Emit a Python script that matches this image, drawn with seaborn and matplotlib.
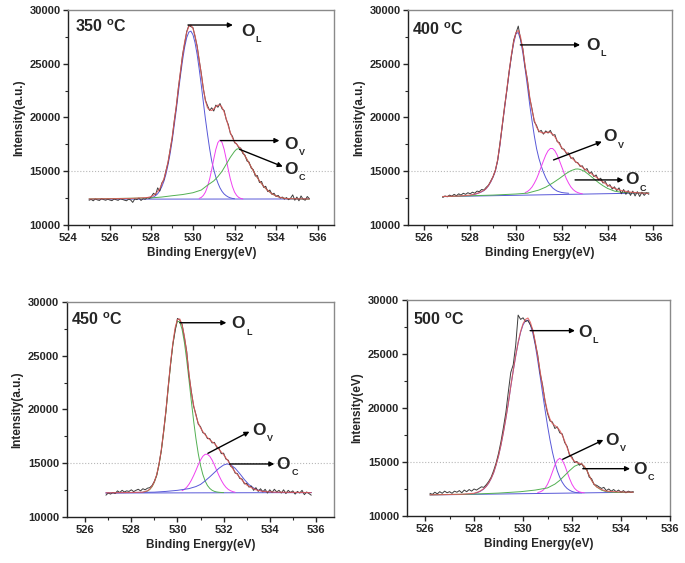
import numpy as np
import matplotlib
matplotlib.use('Agg')
import matplotlib.pyplot as plt
import seaborn as sns
from matplotlib.ticker import MultipleLocator

# ---------------- data ----------------
# raw spectra: 0.1 eV steps starting at the given energy
raw350_start = 525.0
raw350 = [12300, 12380, 12250, 12420, 12330, 12280, 12450, 12360, 12300, 12400,
          12320, 12260, 12410, 12350, 12290, 12440, 12380, 12310, 12250, 12400,
          12330, 12100, 12420, 12360, 12500, 12280, 12450, 12390, 12550, 12480,
          12650, 12950, 12800, 13450, 13150, 13900, 14200, 15050, 15800, 17000,
          18100, 19700, 21050, 22800, 24250, 25850, 26900, 28000, 28550, 28450,
          28350, 27500, 26650, 25300, 24100, 22650, 21600, 21100, 20650, 20900,
          20600, 21150, 20950, 21300, 20800, 20650, 19800, 19350, 18500, 18250,
          17650, 17550, 17200, 17150, 16650, 16500, 15950, 15850, 15300, 15150,
          14550, 14600, 13950, 14050, 13500, 13600, 13100, 13250, 12850, 12950,
          12650, 12750, 12500, 12600, 12400, 12550, 12350, 12500, 12800, 12300,
          12600, 12250, 12700, 12400, 12300, 12650, 12450]
raw400_start = 526.8
raw400 = [12550, 12700, 12620, 12780, 12680, 12850, 12720, 12900, 12780, 12950,
          12850, 13000, 12900, 13050, 12950, 13150, 13100, 13300, 13250, 13500,
          13700, 14100, 14500, 15100, 16000, 17600, 19200, 21000, 22500, 24300,
          25700, 27200, 27850, 28500, 27300, 26400, 24700, 23500, 21800, 20800,
          19600, 19250, 18650, 18800, 18450, 18750, 18550, 18800, 18350, 18400,
          17750, 17650, 17100, 17050, 16650, 16700, 16200, 16250, 15850, 15800,
          15450, 15500, 15100, 15250, 14800, 14950, 14500, 14650, 14200, 14350,
          13900, 14050, 13600, 13750, 13350, 13550, 13200, 13450, 12900, 13300,
          12850, 13200, 12750, 13150, 12700, 13100, 12650, 13050, 12750, 13000,
          12850]
raw450_start = 526.9
raw450 = [12050, 12250, 12150, 12300, 12200, 12450, 12300, 12500, 12350, 12450,
          12400, 12550, 12380, 12500, 12600, 12450, 12650, 12550, 12700, 12750,
          12950, 13350, 13900, 14950, 16200, 18000, 19850, 22150, 24200, 26050,
          27300, 28450, 28300, 27900, 26700, 25400, 23200, 21700, 20300, 19550,
          18650, 18400, 17850, 17750, 17300, 17300, 16900, 16950, 16500, 16400,
          15900, 15950, 15400, 15300, 14750, 14600, 14100, 14050, 13600, 13550,
          13100, 13150, 12800, 12900, 12500, 12750, 12400, 12650, 12350, 12600,
          12250, 12550, 12300, 12600, 12350, 12500, 12250, 12550, 12200, 12500,
          12300, 12450, 12150, 12400, 12250, 12500, 12100, 12350, 12200, 12050]
raw500_start = 526.2
raw500 = [12100, 12000, 12200, 12050, 12250, 12100, 12300, 12150, 12250, 12100,
          12300, 12200, 12350, 12150, 12400, 12250, 12450, 12300, 12500, 12400,
          12550, 12700, 12650, 12900, 13200, 13600, 14200, 14900, 15800, 16900,
          18200, 19600, 21500, 23300, 24000, 25800, 28600, 28200, 28350, 28000,
          28100, 27700, 27200, 26000, 24900, 23200, 22100, 20600, 19500, 18800,
          18700, 18100, 18250, 17700, 17600, 16800, 16450, 15600, 15450, 14950,
          15050, 14700, 14850, 14400, 14350, 13600, 13450, 12900, 12850, 12700,
          12550, 12650, 12350, 12500, 12300, 12450, 12250, 12400, 12200, 12350,
          12150, 12300, 12200, 12250]

# cumulative fit envelopes
fit350_x = [525.0, 527.0, 527.8, 528.0, 528.2, 528.4,
            528.6, 528.7, 528.8, 528.9, 529.0, 529.1, 529.2, 529.3, 529.4, 529.5,
            529.6, 529.7, 529.8, 529.9, 530.0, 530.1, 530.2, 530.3, 530.4, 530.5,
            530.6, 530.7, 530.8, 530.9, 531.0, 531.1, 531.2, 531.3, 531.4, 531.5,
            531.6, 531.7, 531.8, 531.9, 532.0, 532.1, 532.2, 532.3, 532.4,
            532.6, 532.8, 533.0, 533.2, 533.4, 533.6, 533.8, 534.0, 534.2, 534.5, 535.6]
fit350 = [12420, 12470, 12550, 12640, 12890, 13360,
          14280, 14980, 15880, 16930, 18180, 19630, 21130, 22750, 24330, 25760,
          27010, 27940, 28470, 28600, 28290, 27610, 26580, 25350, 24025, 22700,
          21540, 20900, 20700, 20650, 20800, 21000, 21150, 21150, 20950, 20500,
          19900, 19200, 18600, 18100, 17750, 17500, 17300, 17050, 16750,
          16100, 15400, 14700, 14100, 13600, 13200, 12900, 12700, 12560, 12450, 12420]
fit400_x = [526.8, 527.5, 528.0, 528.2, 528.4,
            528.6, 528.7, 528.8, 528.9, 529.0, 529.1, 529.2, 529.3, 529.4, 529.5,
            529.6, 529.7, 529.8, 529.9, 530.0, 530.1, 530.2, 530.3, 530.4, 530.5,
            530.6, 530.7, 530.8, 530.9, 531.0, 531.1, 531.2, 531.3, 531.4, 531.5,
            531.6, 531.7, 531.8, 531.9, 532.0, 532.1, 532.2, 532.3, 532.4,
            532.6, 532.8, 533.0, 533.2, 533.4, 533.6, 533.8, 534.0, 534.3, 534.6,
            535.0, 535.4, 535.8]
fit400 = [12650, 12690, 12780, 12870, 13010,
          13220, 13400, 13680, 14040, 14500, 15060, 16070, 17480, 19290, 20900,
          22610, 24220, 25830, 27040, 27900, 28100, 27500, 26300, 24800, 23400,
          21900, 20700, 19750, 19100, 18750, 18600, 18550, 18600, 18650, 18600,
          18450, 18200, 17850, 17500, 17200, 16950, 16750, 16550, 16300,
          15900, 15550, 15200, 14900, 14600, 14300, 14000, 13700, 13400, 13200,
          13050, 12980, 12950]
fit450_x = [526.9, 528.0, 528.5,
            528.7, 528.8, 528.9, 529.0, 529.1, 529.2, 529.3, 529.4, 529.5, 529.6,
            529.7, 529.8, 529.9, 530.0, 530.1, 530.2, 530.3, 530.4, 530.5, 530.6,
            530.7, 530.8, 530.9, 531.0, 531.1, 531.2, 531.3, 531.4, 531.5, 531.6,
            531.7, 531.8, 531.9, 532.0, 532.1, 532.2, 532.3, 532.4, 532.5, 532.6,
            532.7, 532.8, 532.9, 533.0,
            533.2, 533.4, 533.7, 534.2, 535.8]
fit450 = [12270, 12300, 12330,
          12460, 12610, 12880, 13300, 13950, 14920, 16260, 17950, 19900, 22100,
          24280, 26150, 27600, 28350, 28400, 27850, 26800, 25300, 23300, 21600,
          20400, 19450, 18750, 18300, 17950, 17650, 17400, 17200, 17000, 16850,
          16600, 16300, 16050, 15800, 15500, 15200, 14850, 14500, 14200, 13950,
          13700, 13450, 13200, 13000,
          12750, 12550, 12400, 12330, 12290]
fit500_x = [526.2, 527.5, 528.0,
            528.2, 528.3, 528.4, 528.5, 528.6, 528.7, 528.8, 528.9, 529.0, 529.1,
            529.2, 529.3, 529.4, 529.5, 529.6, 529.7, 529.8, 529.9, 530.0, 530.1,
            530.2, 530.3, 530.4, 530.5, 530.6, 530.7, 530.8, 530.9, 531.0, 531.1,
            531.2, 531.3, 531.4, 531.5, 531.6, 531.7, 531.8, 531.9, 532.0, 532.1,
            532.2, 532.3, 532.4, 532.5, 532.6, 532.7, 532.8, 532.9, 533.0,
            533.2, 533.4, 533.7, 534.0, 534.5]
fit500 = [11960, 12010, 12100,
          12250, 12380, 12530, 12760, 13070, 13490, 14020, 14740, 15580, 16600,
          17770, 19070, 20470, 22030, 23480, 24850, 26080, 27080, 27800, 28200,
          28330, 27930, 27180, 26120, 24750, 23350, 21950, 20680, 19650, 18970,
          18550, 18380, 18190, 17920, 17490, 16940, 16330, 15740, 15310, 15070,
          14940, 14880, 14800, 14600, 14250, 13750, 13300, 12950, 12700,
          12450, 12300, 12250, 12220, 12200]

# lattice oxygen O_L component (0.1 eV steps from the start energy)
ol350_start = 527.9
ol350 = [12472, 12520, 12602, 12730, 12900, 13180, 13560, 14060, 14730, 15610,
         16630, 17860, 19290, 20770, 22370, 23930, 25330, 26550, 27440, 27940,
         28030, 27690, 26950, 25860, 24500, 23010, 21410, 19850, 18430, 17110,
         15970, 15150, 14450, 13900, 13450, 13120, 12880, 12720, 12600, 12520,
         12470, 12440]
ol400_start = 528.0
ol400 = [12760, 12800, 12850, 12910, 12990, 13080, 13200, 13380, 13650, 14000,
         14450, 15000, 16000, 17400, 19200, 20800, 22500, 24100, 25700, 26900,
         27800, 27900, 27200, 26000, 24500, 22900, 21200, 19700, 18300, 17100,
         16200, 15500, 14900, 14400, 14000, 13700, 13450, 13280, 13150, 13080,
         13020, 12990, 12970, 12950]
ol450_start = 528.5
ol450 = [12320, 12360, 12435, 12580, 12840, 13255, 13890, 14850, 16175, 17850,
         19780, 21970, 24140, 26005, 27440, 28175, 28130, 27440, 26230, 24600,
         22730, 20800, 18950, 17310, 15920, 14800, 13970, 13365, 12950, 12680,
         12505, 12405, 12350, 12320, 12300, 12290]
ol500_start = 528.0
ol500 = [12080, 12140, 12230, 12350, 12510, 12740, 13050, 13470, 14000, 14720,
         15560, 16570, 17740, 19030, 20430, 21980, 23430, 24790, 26015, 27000,
         27700, 28070, 28130, 27680, 26910, 25820, 24390, 22895, 21340, 19810,
         18360, 17060, 15920, 14970, 14170, 13575, 13125, 12785, 12545, 12385,
         12270, 12200, 12160, 12150, 12150]

# oxygen vacancy O_V component (0.1 eV steps)
ov350_start = 530.3
ov350 = [12470, 12565, 12750, 13060, 13570, 14260, 15140, 16130, 17030, 17670,
         17900, 17670, 17030, 16130, 15140, 14260, 13570, 13060, 12750, 12565,
         12470, 12420]
ov400_start = 530.4
ov400 = [13010, 13115, 13285, 13530, 13880, 14300, 14825, 15405, 15970, 16500,
         16900, 17115, 17115, 16900, 16500, 15970, 15405, 14825, 14300, 13880,
         13530, 13285, 13115, 13010, 12940, 12900]
ov450_start = 530.2
ov450 = [12465, 12590, 12785, 13065, 13430, 13865, 14350, 14865, 15315, 15660,
         15845, 15845, 15660, 15315, 14865, 14350, 13865, 13430, 13065, 12785,
         12590, 12465, 12380, 12320]
ov500_start = 530.6
ov500 = [12175, 12230, 12350, 12570, 12935, 13455, 14080, 14705, 15165, 15340,
         15165, 14705, 14080, 13455, 12935, 12570, 12350, 12230, 12175, 12150]

# chemisorbed oxygen O_C component
oc350_x = [525.0, 528.0, 528.5, 529.0, 529.5, 530.0, 530.4, 530.7, 531.0, 531.2,
           531.4, 531.6, 531.8, 532.0, 532.1, 532.2, 532.3, 532.4, 532.6, 532.8,
           533.0, 533.2, 533.4, 533.6, 533.8, 534.0, 534.2, 534.5, 535.6]
oc350 = [12420, 12520, 12600, 12720, 12830, 13000, 13250, 13700, 14100, 14500,
         15000, 15650, 16300, 16850, 17050, 17100, 17000, 16750, 16100, 15400,
         14700, 14100, 13600, 13200, 12900, 12700, 12560, 12450, 12400]
oc400_x = [526.8, 529.0, 530.0, 530.5, 531.0, 531.3, 531.6, 531.9, 532.2, 532.4,
           532.6, 532.7, 532.8, 533.0, 533.2, 533.4, 533.6, 533.8, 534.0, 534.3,
           534.6, 535.0, 535.8]
oc400 = [12640, 12780, 12880, 12960, 13250, 13520, 13900, 14330, 14800, 15050,
         15200, 15210, 15170, 14980, 14650, 14300, 13950, 13650, 13400, 13150,
         13040, 12980, 12980]
oc450_x = [526.9, 529.0, 529.5, 530.0, 530.5, 530.8, 531.0, 531.2, 531.4, 531.6,
           531.8, 532.0, 532.15, 532.3, 532.5, 532.7, 532.9, 533.1, 533.3, 533.5,
           533.8, 534.2, 535.8]
oc450 = [12260, 12330, 12400, 12500, 12660, 12850, 13050, 13380, 13750, 14150,
         14550, 14850, 14950, 14880, 14550, 14050, 13500, 13030, 12720, 12520,
         12380, 12300, 12290]
oc500_x = [526.2, 528.0, 529.0, 529.9, 530.5, 531.0, 531.3, 531.5, 531.7, 531.9,
           532.1, 532.3, 532.4, 532.5, 532.6, 532.7, 532.8, 532.9, 533.0, 533.2,
           533.4, 533.8, 534.5]
oc500 = [11960, 12030, 12120, 12250, 12400, 12600, 12950, 13300, 13750, 14200,
         14600, 14800, 14780, 14600, 14250, 13750, 13300, 12950, 12700, 12400,
         12250, 12180, 12200]

# background lines (end points)
bg350_x, bg350 = [525.0, 535.6], [12400, 12420]
bg400_x, bg400 = [526.8, 535.8], [12640, 12980]
bg450_x, bg450 = [526.9, 535.8], [12250, 12290]
bg500_x, bg500 = [526.2, 534.5], [11950, 12200]

temps = ['350', '400', '450', '500']
ylabels = ['Intensity(a.u.)', 'Intensity(a.u.)', 'Intensity(a.u.)', 'Intensity(eV)']

# ---------------- style ----------------
sns.set_style('ticks')
plt.rcParams['font.family'] = ['Liberation Sans', 'DejaVu Sans']
plt.rcParams['font.weight'] = 'bold'
plt.rcParams['axes.labelweight'] = 'bold'
plt.rcParams['mathtext.fontset'] = 'custom'
plt.rcParams['mathtext.rm'] = 'Liberation Sans:bold'
plt.rcParams['mathtext.bf'] = 'Liberation Sans:bold'
plt.rcParams['mathtext.it'] = 'Liberation Sans:bold'

c_raw = '#3c3c3c'
c_fit = '#e05858'
c_blue = '#5858d8'
c_mag = '#f040f0'
c_green = '#52b052'


def grid(start, vals):
    return np.round(start + 0.1 * np.arange(len(vals)), 2)


def line(ax, x, y, color, lw=0.7, alpha=1.0):
    sns.lineplot(x=list(x), y=list(y), ax=ax, color=color, linewidth=lw,
                 alpha=alpha, estimator=None, sort=False, legend=False)


panels = [
    dict(rect=[0.0997, 0.6004, 0.3883, 0.3819], xlim=(524, 536.8), xt=range(524, 537, 2),
         raw=(raw350_start, raw350), fit=(fit350_x, fit350),
         ol=(ol350_start, ol350), ov=(ov350_start, ov350), oc=(oc350_x, oc350),
         bg=(bg350_x, bg350), ol_c=c_blue, oc_c=c_green,
         title=(524.3, 28450),
         L=((529.76, 28600), (531.92, 28600), (532.3, 28000)),
         V=((531.33, 17850), (534.16, 17850), (534.4, 17500)),
         C=((532.24, 17040), (534.32, 15430), (534.4, 15150))),
    dict(rect=[0.5961, 0.6004, 0.3845, 0.3819], xlim=(525.3, 536.8), xt=range(526, 537, 2),
         raw=(raw400_start, raw400), fit=(fit400_x, fit400),
         ol=(ol400_start, ol400), ov=(ov400_start, ov400), oc=(oc400_x, oc400),
         bg=(bg400_x, bg400), ol_c=c_blue, oc_c=c_green,
         title=(525.45, 28150),
         L=((530.19, 26750), (532.8, 26750), (533.05, 26700)),
         V=((531.64, 16050), (533.75, 17750), (533.8, 18200)),
         C=((532.58, 14190), (534.69, 14190), (534.75, 14200))),
    dict(rect=[0.0974, 0.0812, 0.3907, 0.3829], xlim=(525.2, 536.8), xt=range(526, 537, 2),
         raw=(raw450_start, raw450), fit=(fit450_x, fit450),
         ol=(ol450_start, ol450), ov=(ov450_start, ov450), oc=(oc450_x, oc450),
         bg=(bg450_x, bg450), ol_c=c_green, oc_c=c_blue,
         title=(525.38, 28300),
         L=((530.1, 28050), (532.12, 28050), (532.35, 27950)),
         V=((531.32, 15935), (533.12, 17944), (533.25, 18050)),
         C=((532.26, 14946), (534.2, 14946), (534.3, 14900))),
    dict(rect=[0.5937, 0.0835, 0.3844, 0.3837], xlim=(525.25, 536.0), xt=range(526, 537, 2),
         raw=(raw500_start, raw500), fit=(fit500_x, fit500),
         ol=(ol500_start, ol500), ov=(ov500_start, ov500), oc=(oc500_x, oc500),
         bg=(bg500_x, bg500), ol_c=c_blue, oc_c=c_green,
         title=(525.5, 28150),
         L=((530.29, 27160), (532.12, 27160), (532.25, 27000)),
         V=((531.62, 15250), (533.28, 17040), (533.35, 17000)),
         C=((532.44, 14380), (534.37, 14380), (534.5, 14300))),
]

fig = plt.figure(figsize=(6.85, 5.63), dpi=100)

for i, p in enumerate(panels):
    ax = fig.add_axes(p['rect'])

    ax.axhline(15000, color='#b8b8b8', linestyle=':', linewidth=0.8, zorder=0)

    line(ax, p['bg'][0], p['bg'][1], c_blue)
    line(ax, grid(*p['ol']), p['ol'][1], p['ol_c'])
    line(ax, grid(*p['ov']), p['ov'][1], c_mag)
    line(ax, p['oc'][0], p['oc'][1], p['oc_c'])
    line(ax, grid(*p['raw']), p['raw'][1], c_raw, lw=0.7)
    line(ax, p['fit'][0], p['fit'][1], c_fit, lw=0.8, alpha=0.85)

    # annotations: arrow, big "O" and a small, low subscript
    for key in ['L', 'V', 'C']:
        start, end, txt = p[key]
        ax.annotate('', xy=end, xytext=start,
                    arrowprops=dict(arrowstyle='-|>', color='black', lw=1.0,
                                    mutation_scale=7, shrinkA=0, shrinkB=0))
        ax.text(txt[0], txt[1], 'O', fontsize=12.5, fontweight='bold',
                ha='left', va='center')
        ax.annotate(key, xy=txt, xytext=(10.5, -6), textcoords='offset points',
                    fontsize=6.5, fontweight='bold', ha='left', va='center')

    ax.text(p['title'][0], p['title'][1], temps[i] + r' $^{\mathbf{o}}$C',
            fontsize=11.5, fontweight='bold', ha='left', va='center')

    ax.set_xlim(*p['xlim'])
    ax.set_ylim(10000, 30000)
    ax.set_xticks(list(p['xt']))
    ax.set_yticks([10000, 15000, 20000, 25000, 30000])
    ax.xaxis.set_minor_locator(MultipleLocator(1))
    ax.yaxis.set_minor_locator(MultipleLocator(2500))
    ax.tick_params(which='major', direction='out', length=3.5, width=1,
                   labelsize=8, top=False, right=False, pad=2)
    ax.tick_params(which='minor', direction='out', length=2, width=0.8,
                   top=False, right=False)
    ax.set_xlabel('Binding Energy(eV)', fontsize=8.5, fontweight='bold', labelpad=3)
    ax.set_ylabel(ylabels[i], fontsize=8.5, fontweight='bold', labelpad=3)

    for side in ['left', 'bottom']:
        ax.spines[side].set_color('#222222')
        ax.spines[side].set_linewidth(1.0)
    for side in ['top', 'right']:
        ax.spines[side].set_color('#8a8a8a')
        ax.spines[side].set_linewidth(1.0)

fig.savefig('out.png', dpi=100)
